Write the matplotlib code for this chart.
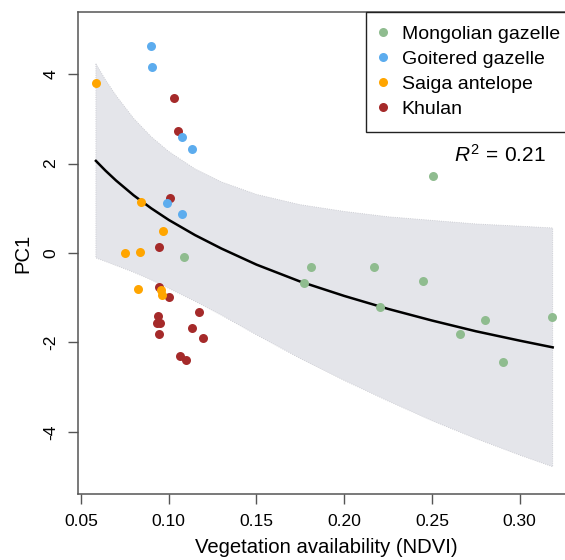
import numpy as np
import matplotlib
matplotlib.use('Agg')
import matplotlib.pyplot as plt

plt.rcParams['font.family'] = ['Liberation Sans', 'DejaVu Sans']
plt.rcParams['mathtext.fontset'] = 'custom'
plt.rcParams['mathtext.rm'] = 'Liberation Sans'
plt.rcParams['mathtext.it'] = 'Liberation Sans:italic'

#### points (NDVI, PC1)
mongolian_x = [0.1085, 0.1809, 0.1773, 0.2172, 0.2204, 0.2447, 0.2504, 0.2658, 0.2800, 0.3186, 0.2903]
mongolian_y = [-0.09, -0.32, -0.66, -0.32, -1.21, -0.63, 1.72, -1.81, -1.50, -1.44, -2.44]

goitered_x = [0.0901, 0.0905, 0.1076, 0.1133, 0.0988, 0.1076]
goitered_y = [4.64, 4.15, 2.59, 2.32, 1.11, 0.88]

saiga_x = [0.0585, 0.0840, 0.0967, 0.0749, 0.0836, 0.0825, 0.0956, 0.0963]
saiga_y = [3.80, 1.15, 0.49, 0.00, 0.03, -0.80, -0.83, -0.94]

khulan_x = [0.1028, 0.1051, 0.1009, 0.0943, 0.0943, 0.1003, 0.0939, 0.0931, 0.0950,
            0.0946, 0.1171, 0.1134, 0.1195, 0.1066, 0.1097]
khulan_y = [3.46, 2.73, 1.24, 0.14, -0.75, -0.99, -1.42, -1.57, -1.57,
            -1.81, -1.33, -1.67, -1.91, -2.31, -2.39]

fit_x = [0.0585, 0.064, 0.07, 0.08, 0.09, 0.10, 0.115, 0.13, 0.15, 0.175,
         0.20, 0.225, 0.25, 0.275, 0.30, 0.3188]
fit_y = [2.06, 1.84, 1.62, 1.29, 1.00, 0.74, 0.40, 0.10, -0.26, -0.64,
         -0.96, -1.25, -1.51, -1.75, -1.96, -2.11]
band_hi = [4.23, 3.87, 3.52, 3.01, 2.60, 2.27, 1.88, 1.59, 1.31, 1.08,
           0.93, 0.81, 0.73, 0.65, 0.60, 0.56]
band_lo = [-0.11, -0.19, -0.28, -0.43, -0.60, -0.79, -1.08, -1.39, -1.83, -2.36,
           -2.85, -3.31, -3.75, -4.15, -4.52, -4.78]

x_ticks = [0.05, 0.10, 0.15, 0.20, 0.25, 0.30]
x_labels = ['0.05', '0.10', '0.15', '0.20', '0.25', '0.30']
y_ticks = [-4, -2, 0, 2, 4]

W, H = 565, 560
fig = plt.figure(figsize=(W / 100, H / 100), dpi=100)
# plot region runs past the right edge of the picture, like the cropped original
ax = fig.add_axes([78 / W, (H - 494) / H, (575 - 78) / W, (494 - 12) / H])

ax.fill_between(fit_x, band_lo, band_hi, facecolor='#e4e5ea', edgecolor='#c4c5cc',
                linewidth=0.6, linestyle=':', zorder=1)
ax.plot(fit_x, fit_y, color='black', lw=1.8, zorder=2)

ms = 42
ax.scatter(khulan_x, khulan_y, s=ms, color='#a52a2a', lw=0, zorder=3)
ax.scatter(saiga_x, saiga_y, s=ms, color='#ffa500', lw=0, zorder=3)
ax.scatter(goitered_x, goitered_y, s=ms, color='#5cacee', lw=0, zorder=3)
ax.scatter(mongolian_x, mongolian_y, s=ms, color='#8fbc8f', lw=0, zorder=3)

ax.set_xlim(0.04829, 0.05 + (575 - 81) / 1754.8)
ax.set_ylim(-5.39, 5.39)

ax.set_xticks(x_ticks)
ax.set_xticklabels(x_labels)
ax.set_yticks(y_ticks)
ax.set_yticklabels([str(v) for v in y_ticks], rotation=90, va='center')
ax.tick_params(direction='out', length=7.2, width=1.0, color='#555555',
               labelsize=12.6, pad=7)
for s in ax.spines.values():
    s.set_color('#555555')
    s.set_linewidth(1.1)

ax.set_xlabel('Vegetation availability (NDVI)', fontsize=14.6, labelpad=7)
ax.set_ylabel('PC1', fontsize=14.6, labelpad=8)

ax.text(0.2888, 2.19, r'$R^2 \,=\, 0.21$', fontsize=15, ha='center', va='center')

handles = [plt.Line2D([], [], marker='o', ls='', ms=6.5, mew=0, color=c)
           for c in ['#8fbc8f', '#5cacee', '#ffa500', '#a52a2a']]
labels = ['Mongolian gazelle', 'Goitered gazelle', 'Saiga antelope', 'Khulan']
ax.legend(handles, labels, loc='upper left', bbox_to_anchor=((365.7 - 78) / (575 - 78), 1.0),
          borderaxespad=0, fontsize=14, frameon=True, fancybox=False, framealpha=1,
          edgecolor='#222222', borderpad=0.7, labelspacing=0.38, handlelength=0.35,
          handletextpad=0.8)
ax.get_legend().get_frame().set_linewidth(1.0)

plt.savefig('out.png', dpi=100)
